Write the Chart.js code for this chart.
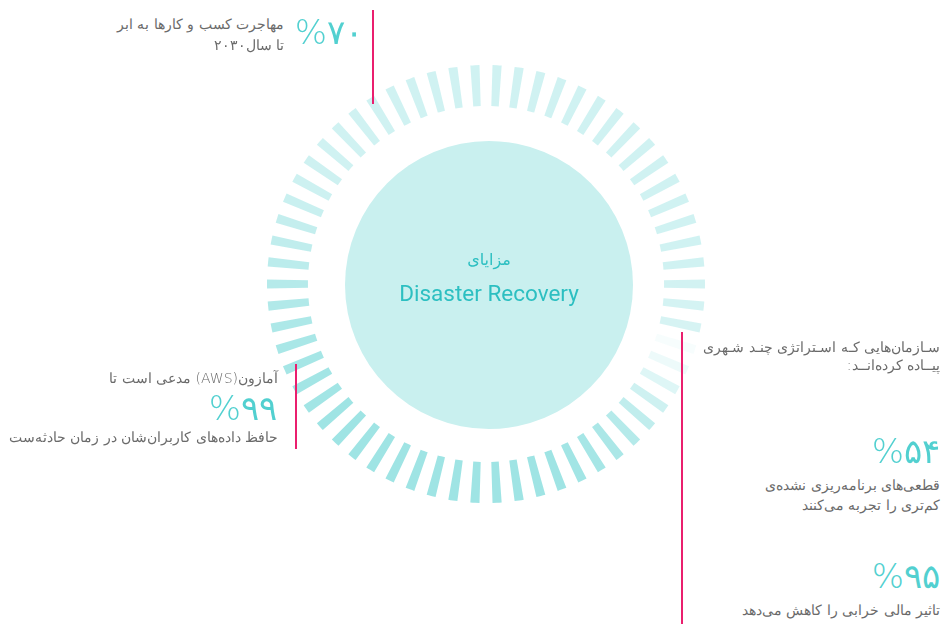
<!DOCTYPE html>
<html lang="fa">
<head>
<meta charset="utf-8">
<script src="https://cdn.jsdelivr.net/npm/chart.js@4.4.1/dist/chart.umd.min.js"></script>
<style>
  html, body { margin: 0; padding: 0; background: #ffffff; }
  body { width: 944px; height: 624px; position: relative; overflow: hidden; font-family: "DejaVu Sans", sans-serif; }
  .abs { position: absolute; white-space: nowrap; }
  .fa { direction: rtl; text-align: right; color: #6a6a6a; font-size: 14px; line-height: 20px; font-weight: 300; }
  .num { direction: ltr; color: #52d0d0; font-size: 34px; line-height: 40px; font-weight: 200; }
  .pink { position: absolute; width: 2px; background: #ea1f6e; }
  #ringBox { position: absolute; left: 267px; top: 65px; width: 438px; height: 438px; }
  #core { position: absolute; left: 345px; top: 141px; width: 288px; height: 288px; border-radius: 50%; background: #c9f0ef; }
</style>
</head>
<body>
<div id="core"></div>
<div id="ringBox"><canvas id="ring"></canvas></div>

<div class="abs" style="left:389px; width:200px; top:248px; text-align:center; direction:rtl; color:#2cbfc1; font-size:16px; line-height:24px;">مزایای</div>
<div class="abs" style="left:339px; width:300px; top:279px; text-align:center; color:#2cbfc1; font-family:Roboto, sans-serif; font-size:22.5px; line-height:28px;">Disaster Recovery</div>

<div class="pink" style="left:372px; top:10px; height:94px;"></div>
<div class="pink" style="left:295px; top:364px; height:85px;"></div>
<div class="pink" style="left:681px; top:332px; height:292px;"></div>

<div class="abs fa" style="right:660px; top:14px;">مهاجرت کسب و کارها به ابر</div>
<div class="abs fa" style="right:660px; top:35px;">تا سال۲۰۳۰</div>
<div class="abs num" style="right:581px; top:12px;">%۷۰</div>

<div class="abs fa" style="right:666px; top:368px;">آمازون(AWS) مدعی است تا</div>
<div class="abs num" style="right:667px; top:388px;">%۹۹</div>
<div class="abs fa" style="right:666px; top:427px;">حافظ داده‌های کاربران‌شان در زمان حادثه‌ست</div>

<div class="abs fa" style="right:4px; top:337px;">سـازمان‌هایی کـه اسـتراتژی چنـد شـهری</div>
<div class="abs fa" style="right:4px; top:355px;">پیــاده کرده‌انــد:</div>

<div class="abs num" style="right:4px; top:431px;">%۵۴</div>
<div class="abs fa" style="right:4px; top:475px;">قطعی‌های برنامه‌ریزی نشده‌ی</div>
<div class="abs fa" style="right:4px; top:495px;">کم‌تری را تجربه می‌کنند</div>

<div class="abs num" style="right:4px; top:556px;">%۹۵</div>
<div class="abs fa" style="right:4px; top:600px;">تاثیر مالی خرابی را کاهش می‌دهد</div>

<script>
// One shade (opacity) per radial tick, starting at 9 o'clock and going clockwise
const tickShades = [
  0.38, 0.35, 0.32, 0.30, 0.28, 0.26, 0.25, 0.24, 0.24, 0.24,
  0.24, 0.24, 0.24, 0.24, 0.24, 0.24, 0.24, 0.24, 0.24, 0.24,
  0.24, 0.24, 0.24, 0.24, 0.24, 0.24, 0.24, 0.24, 0.24, 0.24,
  0.24, 0.23, 0.22, 0.21, 0.04, 0.09, 0.17, 0.25, 0.32, 0.38,
  0.43, 0.46, 0.48, 0.49, 0.49, 0.49, 0.49, 0.49, 0.49, 0.49,
  0.49, 0.49, 0.49, 0.49, 0.49, 0.49, 0.48, 0.47, 0.46, 0.44,
  0.42, 0.40
];
const tickSpan = 2.4;   // angular share of each tick
const gapSpan = 3.406;  // angular share of the gap after each tick
const tickRGB = [60, 200, 200];

const values = [];
const colors = [];
tickShades.forEach(function (s) {
  values.push(tickSpan, gapSpan);
  colors.push('rgba(' + tickRGB.join(',') + ',' + s + ')', 'rgba(0,0,0,0)');
});
const totalSpan = tickShades.length * (tickSpan + gapSpan);
const firstTickCenter = 270; // degrees clockwise from top

new Chart(document.getElementById('ring'), {
  type: 'doughnut',
  data: {
    labels: values.map(function (_, i) { return String(i); }),
    datasets: [{
      data: values,
      backgroundColor: colors,
      borderWidth: 0,
      hoverOffset: 0
    }]
  },
  options: {
    responsive: true,
    maintainAspectRatio: false,
    animation: false,
    cutout: '81.3%',
    rotation: firstTickCenter - (tickSpan / totalSpan) * 360 / 2,
    layout: { padding: 0 },
    plugins: { legend: { display: false }, tooltip: { enabled: false } },
    events: []
  }
});
</script>
</body>
</html>
